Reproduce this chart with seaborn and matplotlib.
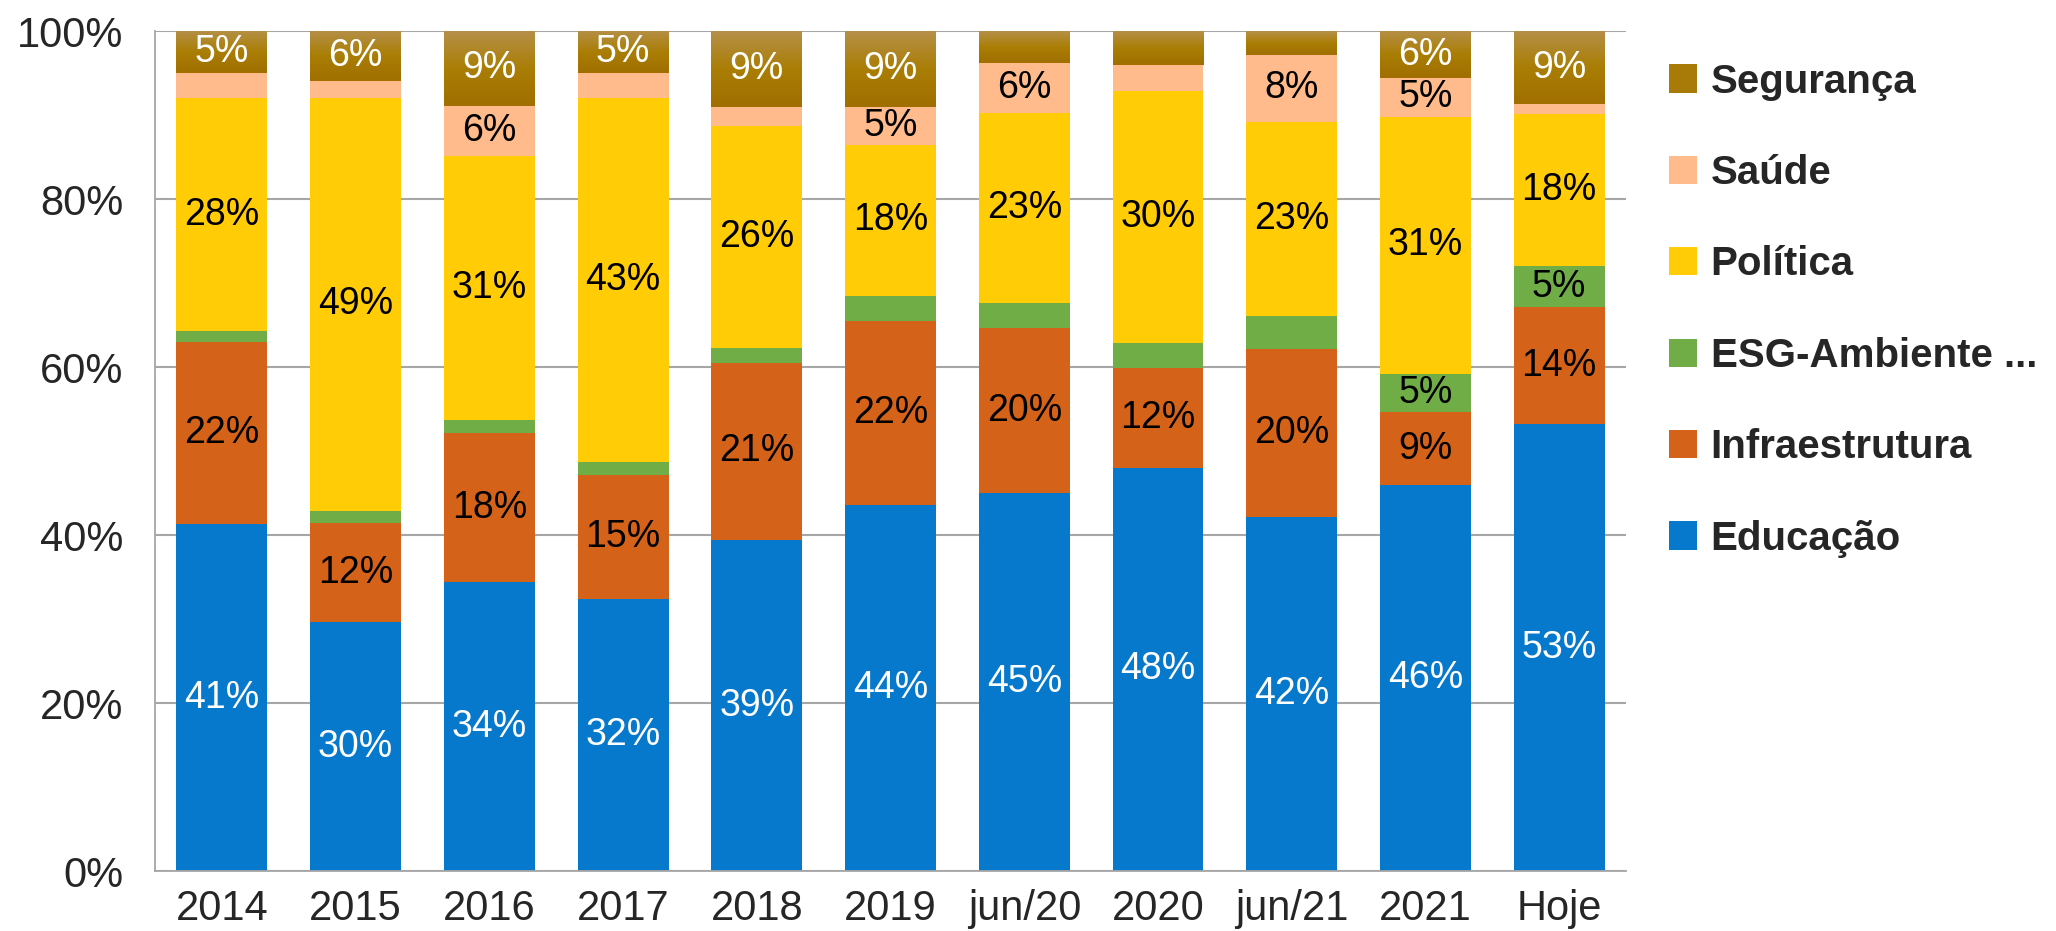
import numpy as np
import pandas as pd
import matplotlib
matplotlib.use("Agg")
import matplotlib.pyplot as plt
from matplotlib.patches import Patch
from matplotlib.colors import LinearSegmentedColormap
import seaborn as sns

# ---------------- dados (percentuais) ----------------
periodos = ["2014", "2015", "2016", "2017", "2018", "2019",
            "jun/20", "2020", "jun/21", "2021", "Hoje"]

educacao      = [41.3, 29.6, 34.4, 32.4, 39.4, 43.6, 45.0, 48.0, 42.2, 45.9, 53.2]
infraestrutura = [21.7, 11.8, 17.7, 14.7, 21.1, 21.9, 19.6, 11.9, 19.9, 8.7, 13.9]
esg_ambiente  = [1.3, 1.5, 1.6, 1.6, 1.8, 3.0, 3.0, 3.0, 4.0, 4.6, 4.9]
politica      = [27.7, 49.1, 31.4, 43.3, 26.4, 17.9, 22.6, 30.0, 23.1, 30.6, 18.1]
saude         = [3.0, 2.0, 6.0, 3.0, 2.3, 4.6, 6.0, 3.1, 8.0, 4.6, 1.2]
seguranca     = [5.0, 6.0, 8.9, 5.0, 9.0, 9.0, 3.8, 4.0, 2.8, 5.6, 8.7]

series = ["Educação", "Infraestrutura", "ESG-Ambiente ...", "Política", "Saúde", "Segurança"]
valores = [educacao, infraestrutura, esg_ambiente, politica, saude, seguranca]
cores = ["#0779CC", "#D46218", "#70AD47", "#FFCC05", "#FFBB8C", "#A87B08"]
cor_texto = ["white", "black", "black", "black", "black", "white"]

# ---------------- montagem ----------------
df = pd.DataFrame({s: v for s, v in zip(series, valores)})
df["periodo"] = periodos
acum = df[series].cumsum(axis=1)

sns.set_style("white")
plt.rcParams["font.family"] = ["Liberation Sans", "DejaVu Sans"]

fig = plt.figure(figsize=(20.56, 9.31), dpi=100)
ax = fig.add_axes([0.0754, 0.0644, 0.7155, 0.9023])

# barras empilhadas: desenha o acumulado, da série de cima para a de baixo
bar_patches = {}
for s, c in reversed(list(zip(series, cores))):
    n_antes = len(ax.patches)
    sns.barplot(x=df["periodo"], y=acum[s], color=c, width=0.68,
                saturation=1, ax=ax, zorder=2, linewidth=0)
    bar_patches[s] = ax.patches[n_antes:]

# degradê na Segurança
grad = LinearSegmentedColormap.from_list("seg", ["#A06F00", "#AA7E05", "#B58F48"])
for i, p in enumerate(bar_patches["Segurança"]):
    x0, w = p.get_x(), p.get_width()
    y_top = acum["Segurança"].iloc[i]
    y_bot = acum["Saúde"].iloc[i]
    img = ax.imshow(np.linspace(0, 1, 64).reshape(-1, 1), cmap=grad, origin="lower",
                    extent=[x0, x0 + w, y_bot, y_top], aspect="auto", zorder=2.5)
    img.set_clip_path(p)

# rótulos de dados
for k, s in enumerate(series):
    for i, v in enumerate(df[s]):
        if v >= 4.5:
            centro = acum[s].iloc[i] - v / 2
            ax.text(i, centro, f"{v:.0f}%", ha="center", va="center",
                    fontsize=27, color=cor_texto[k], zorder=4)

# eixos
ax.set_ylim(0, 100)
ax.set_xlim(-0.5, len(periodos) - 0.5)
ax.set_yticks(np.arange(0, 101, 20))
ax.set_yticklabels([f"{t}%" for t in range(0, 101, 20)], fontsize=30)
ax.set_xticks(range(len(periodos)))
ax.set_xticklabels(periodos, fontsize=30)
ax.set_xticks(np.arange(-0.5, len(periodos), 1), minor=True)
ax.tick_params(axis="x", which="major", length=0, pad=13)
ax.tick_params(axis="x", which="minor", length=10, color="#A6A6A6", width=1.3)
ax.tick_params(axis="y", length=10, color="#A6A6A6", width=1.3, pad=13)
ax.set_xlabel("")
ax.set_ylabel("")
ax.grid(axis="y", color="#A6A6A6", linewidth=1.5, zorder=0)
ax.set_axisbelow(True)
for lado in ["top", "right"]:
    ax.spines[lado].set_visible(False)
for lado in ["left", "bottom"]:
    ax.spines[lado].set_color("#A6A6A6")
    ax.spines[lado].set_linewidth(1.3)

# legenda
handles = [Patch(facecolor=c, edgecolor="none", label=s)
           for s, c in zip(series, cores)][::-1]
fig.legend(handles=handles, loc="upper left", bbox_to_anchor=(0.804, 0.950),
           frameon=False, prop={"weight": "bold", "size": 29},
           handlelength=0.7, handleheight=0.7, handletextpad=0.33,
           labelspacing=1.325, borderaxespad=0)

fig.savefig("out.png", dpi=100)
